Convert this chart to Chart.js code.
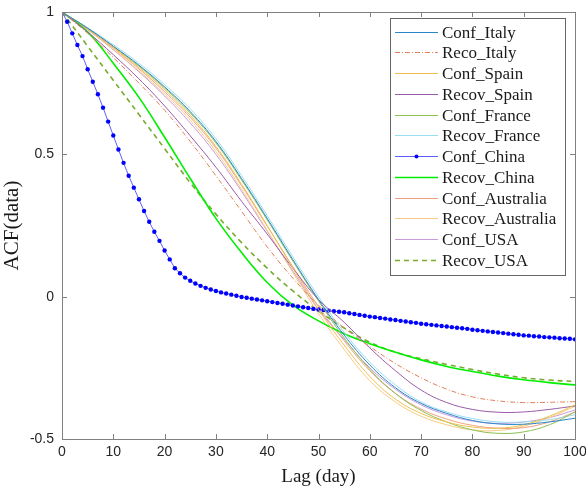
<!DOCTYPE html>
<html lang="en">
<head>
  <meta charset="UTF-8">
  <title>ACF of case series</title>
  <script src="https://cdn.jsdelivr.net/npm/chart.js"></script>
  <style>
    body { margin:0; background:#fff; }
    #acf { display:block; }
  </style>
</head>
<body>
<canvas id="acf" width="586" height="490"></canvas>

<script>
  // lags sampled every 5 days for the smooth curves
  const lags = [0,5,10,15,20,25,30,35,40,45,50,55,60,65,70,75,80,85,90,95,100];

  const confItaly  = [1,0.943,0.880,0.813,0.737,0.650,0.545,0.415,0.275,0.130,-0.010,-0.135,-0.240,-0.320,-0.375,-0.410,-0.435,-0.447,-0.448,-0.440,-0.427];
  const recoItaly  = [1,0.925,0.840,0.750,0.655,0.545,0.425,0.300,0.175,0.065,-0.030,-0.110,-0.175,-0.235,-0.285,-0.325,-0.352,-0.366,-0.372,-0.371,-0.369];
  const confSpain  = [1,0.942,0.876,0.805,0.727,0.637,0.528,0.395,0.250,0.100,-0.045,-0.170,-0.280,-0.360,-0.410,-0.440,-0.458,-0.462,-0.450,-0.420,-0.380];
  const recovSpain = [1,0.930,0.850,0.765,0.670,0.565,0.455,0.335,0.220,0.100,-0.010,-0.090,-0.180,-0.260,-0.328,-0.372,-0.396,-0.406,-0.405,-0.396,-0.384];
  const confFrance = [1,0.943,0.878,0.810,0.733,0.645,0.540,0.410,0.270,0.125,-0.015,-0.145,-0.255,-0.340,-0.400,-0.440,-0.468,-0.480,-0.475,-0.450,-0.405];
  const recovFrance= [1,0.945,0.885,0.820,0.745,0.660,0.555,0.425,0.285,0.140,0.000,-0.125,-0.230,-0.310,-0.370,-0.405,-0.428,-0.440,-0.440,-0.432,-0.415];
  const recovChina = [1,0.930,0.820,0.700,0.560,0.415,0.275,0.155,0.050,-0.030,-0.085,-0.130,-0.165,-0.195,-0.222,-0.245,-0.263,-0.279,-0.292,-0.302,-0.310];
  const confAus    = [1,0.940,0.873,0.800,0.720,0.630,0.522,0.390,0.248,0.105,-0.035,-0.155,-0.260,-0.340,-0.395,-0.430,-0.452,-0.462,-0.460,-0.440,-0.405];
  const recovAus   = [1,0.938,0.868,0.793,0.712,0.620,0.510,0.377,0.233,0.085,-0.060,-0.185,-0.295,-0.370,-0.420,-0.450,-0.468,-0.470,-0.455,-0.425,-0.385];
  const confUSA    = [1,0.938,0.867,0.790,0.705,0.610,0.500,0.370,0.230,0.090,-0.045,-0.150,-0.250,-0.325,-0.380,-0.415,-0.437,-0.445,-0.440,-0.425,-0.398];
  const recovUSA   = [1,0.880,0.760,0.640,0.520,0.400,0.290,0.190,0.100,0.020,-0.050,-0.110,-0.160,-0.195,-0.218,-0.238,-0.256,-0.272,-0.285,-0.293,-0.298];

  // China confirmed is plotted day by day (lag 0..100)
  const dailyLags = Array.from({length:101},(_,i)=>i);
  const confChina = [
    1.000,0.966,0.925,0.884,0.845,0.799,0.755,0.711,0.664,0.615,
    0.566,0.517,0.470,0.425,0.383,0.342,0.301,0.263,0.228,0.196,
    0.162,0.131,0.100,0.082,0.067,0.056,0.046,0.038,0.031,0.025,
    0.020,0.015,0.011,0.007,0.003,-0.001,-0.004,-0.007,-0.010,-0.013,
    -0.016,-0.019,-0.022,-0.025,-0.028,-0.031,-0.034,-0.037,-0.040,-0.043,
    -0.045,-0.047,-0.049,-0.051,-0.053,-0.055,-0.058,-0.061,-0.064,-0.067,
    -0.070,-0.072,-0.075,-0.077,-0.080,-0.082,-0.085,-0.087,-0.090,-0.092,
    -0.095,-0.097,-0.099,-0.101,-0.103,-0.105,-0.107,-0.109,-0.111,-0.113,
    -0.116,-0.118,-0.120,-0.122,-0.124,-0.126,-0.128,-0.130,-0.132,-0.134,
    -0.136,-0.137,-0.139,-0.140,-0.142,-0.143,-0.144,-0.146,-0.147,-0.148,
    -0.150
  ];

  const xTicks = [0,10,20,30,40,50,60,70,80,90,100];
  const yTicks = [-0.5,0,0.5,1];

  const pts = (xs, ys) => xs.map((x,i)=>({x:x, y:ys[i]}));

  function smooth(label, ys, color, extra){
    return Object.assign({
      label:label, data:pts(lags, ys), borderColor:color, borderWidth:1,
      pointRadius:0, tension:0.4, fill:false
    }, extra || {});
  }

  const datasets = [
    smooth('Conf_Italy', confItaly, '#2a86c8'),
    smooth('Reco_Italy', recoItaly, '#e0805a', {borderDash:[5,2,1,2]}),
    smooth('Conf_Spain', confSpain, '#efc050'),
    smooth('Recov_Spain', recovSpain, '#9a5aa8'),
    smooth('Conf_France', confFrance, '#8cc050'),
    smooth('Recov_France', recovFrance, '#9adcf2'),
    {label:'Conf_China', data:pts(dailyLags, confChina), borderColor:'#6060ff', borderWidth:1,
     pointRadius:2.2, pointBackgroundColor:'#0000ff', pointBorderWidth:0, tension:0, fill:false},
    smooth('Recov_China', recovChina, '#00ee00', {borderWidth:1.6}),
    smooth('Conf_Australia', confAus, '#f0a080'),
    smooth('Recov_Australia', recovAus, '#f5cc80'),
    smooth('Conf_USA', confUSA, '#cc99dd'),
    smooth('Recov_USA', recovUSA, '#77ac30', {borderWidth:1.6, borderDash:[5,4]})
  ];

  const axisGrey = '#808080';

  // box + inward ticks like a matlab axes
  const frame = {
    id:'frame',
    afterDatasetsDraw(chart){
      const {ctx, chartArea:a, scales:{x,y}} = chart;
      ctx.save();
      ctx.strokeStyle = axisGrey; ctx.lineWidth = 1;
      ctx.strokeRect(Math.round(a.left)+0.5, Math.round(a.top)+0.5,
                     Math.round(a.right-a.left), Math.round(a.bottom-a.top));
      ctx.beginPath();
      xTicks.forEach(v=>{
        const px = Math.round(x.getPixelForValue(v))+0.5;
        ctx.moveTo(px, a.bottom); ctx.lineTo(px, a.bottom-5);
        ctx.moveTo(px, a.top); ctx.lineTo(px, a.top+5);
      });
      yTicks.forEach(v=>{
        const py = Math.round(y.getPixelForValue(v))+0.5;
        ctx.moveTo(a.left, py); ctx.lineTo(a.left+5, py);
        ctx.moveTo(a.right, py); ctx.lineTo(a.right-5, py);
      });
      ctx.stroke();
      ctx.restore();
    }
  };

  // legend box in the upper right corner
  const boxLegend = {
    id:'boxLegend',
    afterDraw(chart){
      const ctx = chart.ctx;
      const x0 = 390, y0 = 18, w = 175, rowH = 20.75, first = 31.5;
      const h = 257;
      ctx.save();
      ctx.fillStyle = '#fff';
      ctx.fillRect(x0, y0, w, h);
      ctx.strokeStyle = '#666'; ctx.lineWidth = 1;
      ctx.strokeRect(x0+0.5, y0+0.5, w, h);
      ctx.font = "17px 'Liberation Serif', 'Times New Roman', serif";
      ctx.textBaseline = 'middle';
      chart.data.datasets.forEach((ds,i)=>{
        const cy = Math.round(first + i*rowH) + 0.5;
        ctx.strokeStyle = ds.borderColor;
        ctx.lineWidth = ds.borderWidth;
        ctx.setLineDash(ds.borderDash || []);
        ctx.beginPath(); ctx.moveTo(395, cy); ctx.lineTo(438, cy); ctx.stroke();
        ctx.setLineDash([]);
        if (ds.pointRadius > 0){
          ctx.fillStyle = ds.pointBackgroundColor;
          ctx.beginPath(); ctx.arc(416.5, cy, 2, 0, Math.PI*2); ctx.fill();
        }
        ctx.fillStyle = '#1a1a1a';
        ctx.fillText(ds.label, 442, cy+1);
      });
      ctx.restore();
    }
  };

  const sansTick = {family:"'Liberation Sans', Arial, sans-serif", size:14};
  const serifTitle = "'Liberation Serif', 'Times New Roman', serif";

  new Chart(document.getElementById('acf'), {
    type:'line',
    data:{datasets:datasets},
    options:{
      responsive:false,
      animation:false,
      layout:{padding:{top:12, right:0, left:0, bottom:0}},
      plugins:{legend:{display:false}, tooltip:{enabled:false}},
      scales:{
        x:{
          type:'linear', min:0, max:100,
          afterFit:s=>{ s.height = 51; s.paddingRight = 11; s.paddingLeft = 0; },
          afterBuildTicks:s=>{ s.ticks = xTicks.map(v=>({value:v})); },
          grid:{display:false, drawTicks:false}, border:{display:false},
          ticks:{color:'#262626', font:sansTick, padding:5, maxRotation:0},
          title:{display:true, text:'Lag (day)', color:'#1a1a1a',
                 font:{family:serifTitle, size:19}, padding:{top:0, bottom:2}}
        },
        y:{
          min:-0.5, max:1,
          afterFit:s=>{ s.width = 62; s.paddingTop = 0; s.paddingBottom = 0; },
          afterBuildTicks:s=>{ s.ticks = yTicks.map(v=>({value:v})); },
          grid:{display:false, drawTicks:false}, border:{display:false},
          ticks:{color:'#262626', font:sansTick, padding:8,
                 callback:v=>String(Math.round(v*10)/10)},
          title:{display:true, text:'ACF(data)', color:'#1a1a1a',
                 font:{family:serifTitle, size:21}, padding:{top:0, bottom:0}}
        }
      }
    },
    plugins:[frame, boxLegend]
  });
</script>
</body>
</html>
